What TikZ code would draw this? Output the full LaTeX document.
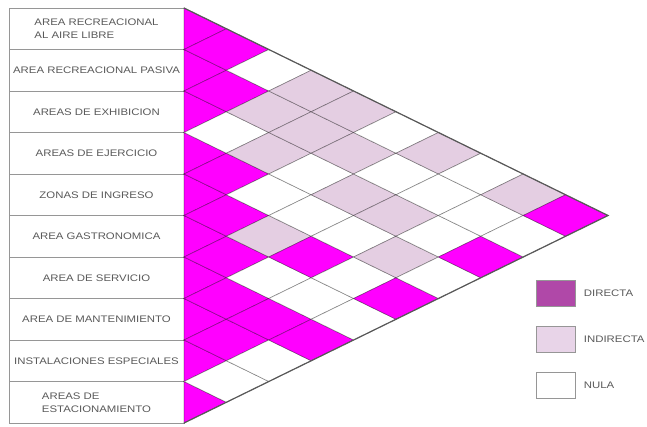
\documentclass[tikz,border=0pt]{standalone}
\usepackage{fontspec}
\setmainfont{Liberation Sans}[FakeStretch=1.2]
\usetikzlibrary{positioning}

\definecolor{dirmag}{RGB}{255,0,255}
\definecolor{indpink}{RGB}{228,206,226}
\definecolor{legmag}{RGB}{176,72,168}
\definecolor{legpink}{RGB}{232,212,232}
\definecolor{txtgray}{RGB}{90,90,90}
\definecolor{boxgray}{RGB}{150,150,150}

\begin{document}
\begin{tikzpicture}[x=1pt, y=-1pt, every node/.style={font=\fontsize{9.5}{13}\selectfont, text=txtgray}]
    % Define styles for the blocks
    \tikzstyle{area} = [rectangle, minimum width=175pt, minimum height=41.5pt, inner sep=1pt, outer sep=0pt, align=center, draw=boxgray, line width=0.8pt, fill=white]
    \tikzstyle{directa} = [fill=dirmag, draw=black, draw opacity=0.35, line width=0.7pt]
    \tikzstyle{indirecta} = [fill=indpink, draw=black, draw opacity=0.35, line width=0.7pt]
    \tikzstyle{nula} = [fill=white, draw=black, draw opacity=0.35, line width=0.7pt]
    \tikzstyle{borde} = [draw=black!65, line width=1.2pt]
    \tikzstyle{legend} = [rectangle, minimum width=39pt, minimum height=26pt, draw=boxgray, line width=0.8pt]

    \useasboundingbox (0,0) rectangle (647,426);

    % Define nodes for the areas
    \node (libre) [area, align=left] at (96.5,28.75) {AREA RECREACIONAL\\AL AIRE LIBRE};
    \node (pasiva) [area, below=0pt of libre] {AREA RECREACIONAL PASIVA};
    \node (exhibicion) [area, below=0pt of pasiva] {AREAS DE EXHIBICION};
    \node (ejercicio) [area, below=0pt of exhibicion] {AREAS DE EJERCICIO};
    \node (ingreso) [area, below=0pt of ejercicio] {ZONAS DE INGRESO};
    \node (gastronomica) [area, below=0pt of ingreso] {AREA GASTRONOMICA};
    \node (servicio) [area, below=0pt of gastronomica] {AREA DE SERVICIO};
    \node (mantenimiento) [area, below=0pt of servicio] {AREA DE MANTENIMIENTO};
    \node (especiales) [area, below=0pt of mantenimiento] {INSTALACIONES ESPECIALES};
    \node (estacionamiento) [area, align=left, below=0pt of especiales] {AREAS DE\\ESTACIONAMIENTO};

    % Half cells along the left edge
    \foreach \k in {1,...,10}
        \filldraw[directa] (184,{8+(\k-1)*41.5}) -- (226.4,{8+(\k-0.5)*41.5}) -- (184,{8+\k*41.5}) -- cycle;

    % Relation cells: row i / row j / kind
    \foreach \i/\j/\kind in {1/2/directa, 2/3/directa, 3/4/nula, 4/5/directa, 5/6/directa, 6/7/directa, 7/8/directa, 8/9/directa, 9/10/nula,
        1/3/nula, 2/4/indirecta, 3/5/indirecta, 4/6/nula, 5/7/indirecta, 6/8/nula, 7/9/directa, 8/10/nula,
        1/4/indirecta, 2/5/indirecta, 3/6/nula, 4/7/nula, 5/8/directa, 6/9/nula, 7/10/directa,
        1/5/indirecta, 2/6/indirecta, 3/7/indirecta, 4/8/nula, 5/9/nula, 6/10/nula,
        1/6/nula, 2/7/nula, 3/8/indirecta, 4/9/indirecta, 5/10/directa,
        1/7/indirecta, 2/8/nula, 3/9/nula, 4/10/nula,
        1/8/nula, 2/9/nula, 3/10/directa,
        1/9/indirecta, 2/10/nula,
        1/10/directa} {
        \pgfmathsetmacro\cx{184+(\j-\i)*42.4}
        \pgfmathsetmacro\cy{8+(\i+\j-1)*20.75}
        \filldraw[\kind] (\cx-42.4,\cy) -- (\cx,\cy-20.75) -- (\cx+42.4,\cy) -- (\cx,\cy+20.75) -- cycle;
    }

    % Outline of the matrix
    \draw[borde] (184,8) -- (608,215.5) -- (184,423);

    % Legend
    \node (directa) [legend, fill=legmag] at (555.5,293.5) {};
    \node (indirecta) [legend, fill=legpink, below=19pt of directa] {};
    \node (nula) [legend, fill=white, below=19pt of indirecta] {};
    \node (tdirecta) [right=5pt of directa] {DIRECTA};
    \node (tindirecta) [right=5pt of indirecta] {INDIRECTA};
    \node (tnula) [right=5pt of nula] {NULA};

\end{tikzpicture}
\end{document}
